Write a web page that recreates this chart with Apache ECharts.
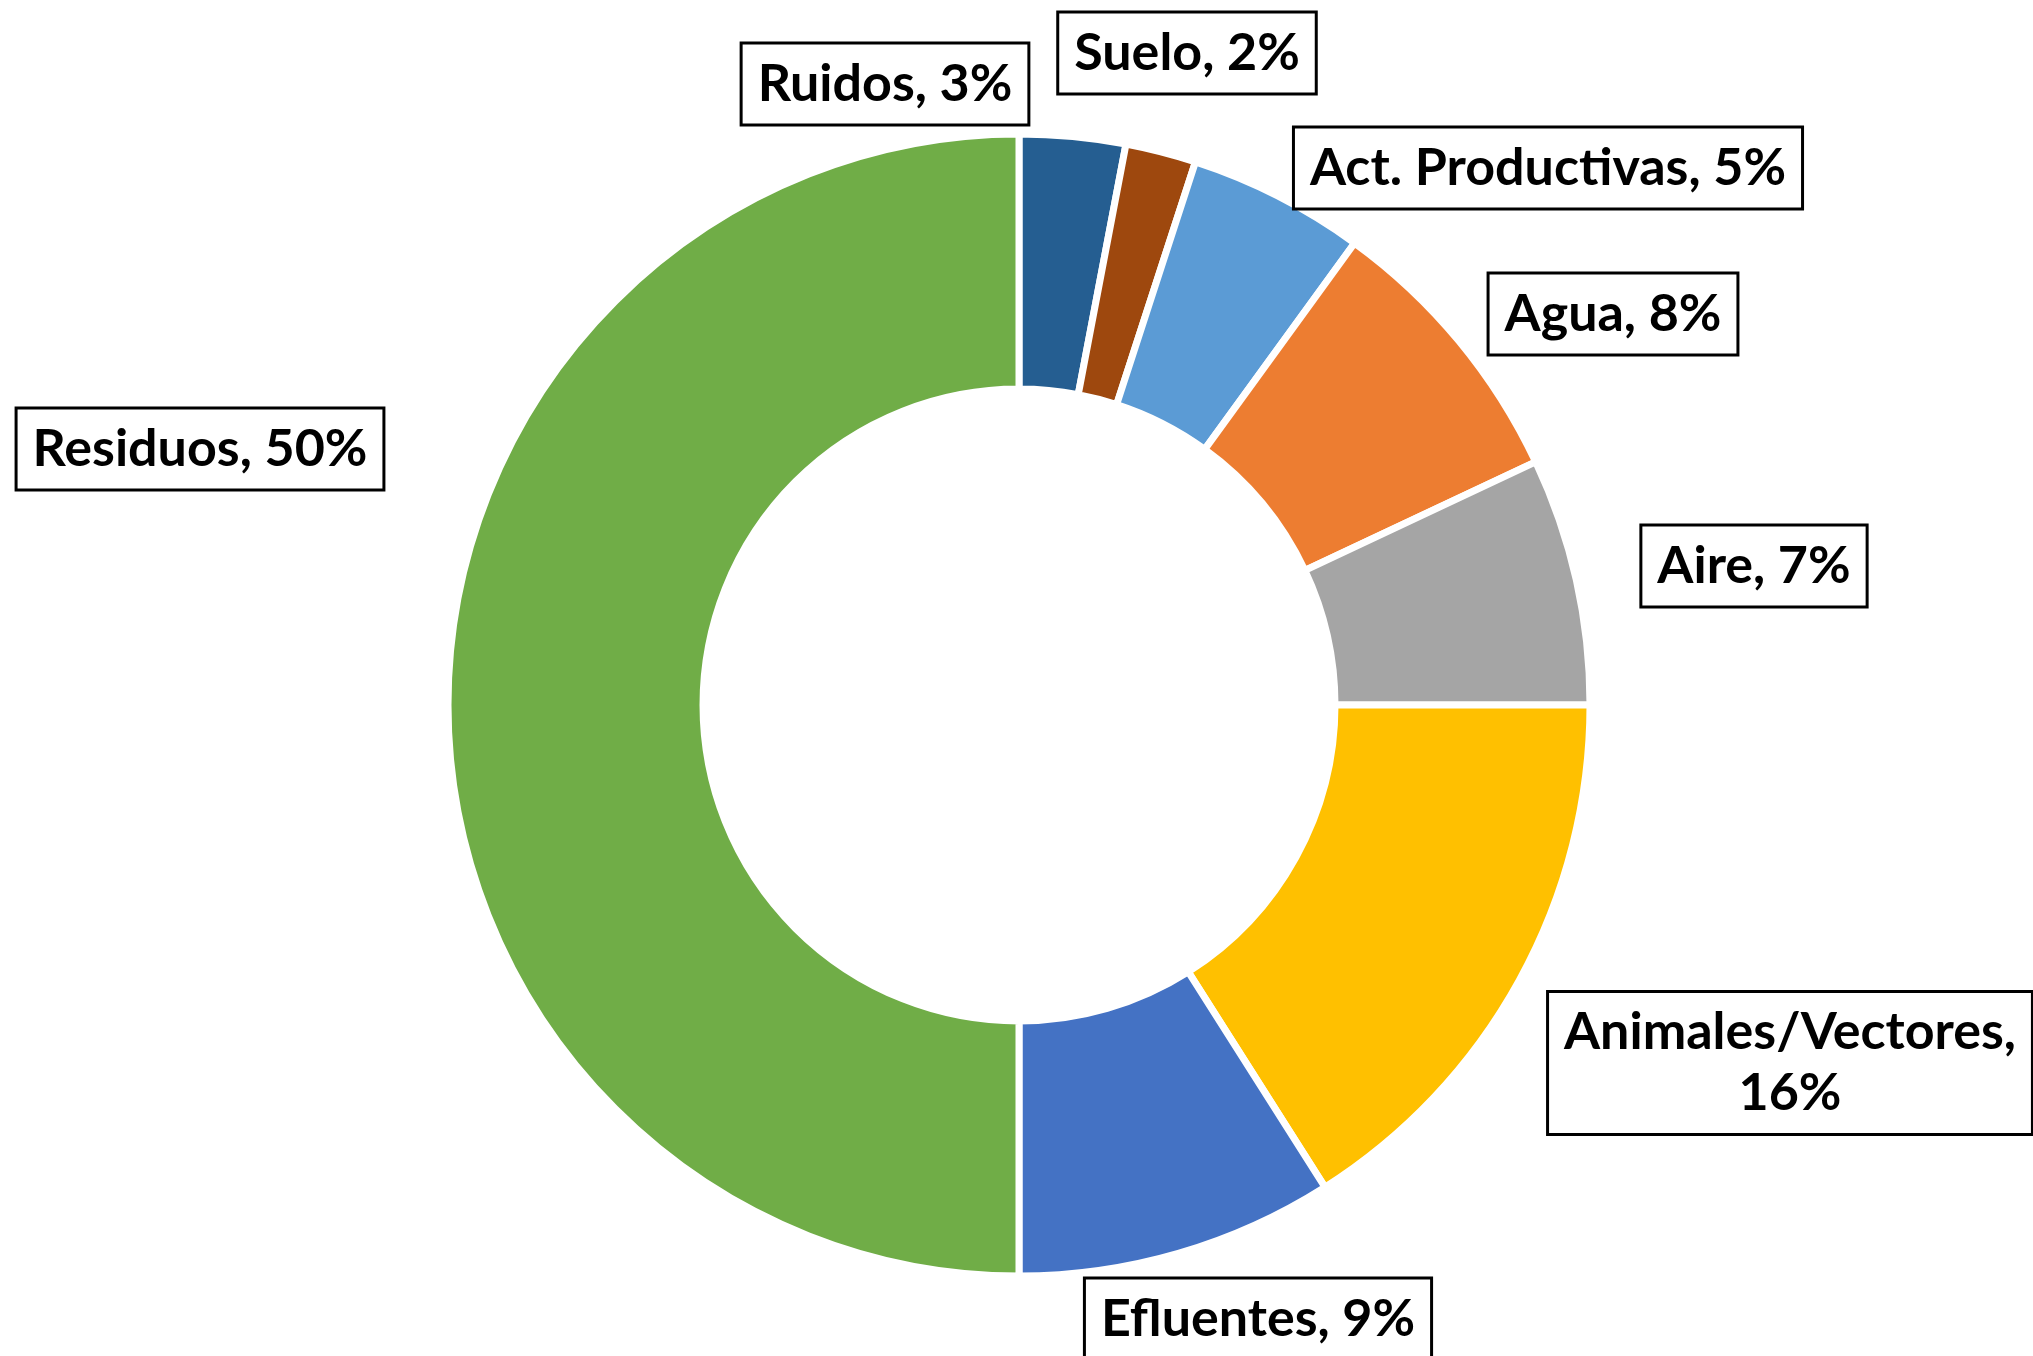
<!DOCTYPE html>
<html>
<head>
<meta charset="utf-8">
<title>Donut</title>
<script src="https://cdn.jsdelivr.net/npm/echarts@6/dist/echarts.min.js"></script>
<style>
  html, body { margin: 0; padding: 0; background: #fff; }
  #chart { width: 2033px; height: 1356px; }
</style>
</head>
<body>
<div id="chart"></div>
<script>
  // categories & values (clockwise from 12 o'clock)
  var categories = ['Ruidos', 'Suelo', 'Act. Productivas', 'Agua', 'Aire', 'Animales/Vectores', 'Efluentes', 'Residuos']
  var values = [3, 2, 5, 8, 7, 16, 9, 50]
  var colors = ['#255E91', '#9E480E', '#5B9BD5', '#ED7D31', '#A5A5A5', '#FFC000', '#4472C4', '#70AD47']

  // label box centers (layout only)
  var labelPos = [
    [885, 84], [1187, 53], [1548, 168], [1613, 314],
    [1754, 566], [1790, 1063], [1258, 1319], [200, 449]
  ]

  var chart = echarts.init(document.getElementById('chart'))

  var seriesData = categories.map(function (name, i) {
    var item = {
      name: name,
      value: values[i],
      itemStyle: { color: colors[i] }
    }
    if (name === 'Animales/Vectores') {
      item.label = { formatter: '{b},\n{c}%' }
    }
    return item
  })

  chart.setOption({
    animation: false,
    series: [{
      type: 'pie',
      center: [1019, 705],
      radius: [316, 571],
      startAngle: 90,
      clockwise: true,
      avoidLabelOverlap: false,
      itemStyle: {
        borderColor: '#fff',
        borderWidth: 7
      },
      label: {
        show: true,
        formatter: '{b}, {c}%',
        fontFamily: 'Lato',
        fontWeight: 'bold',
        fontSize: 52,
        lineHeight: 61,
        color: '#000',
        backgroundColor: '#fff',
        borderColor: '#000',
        borderWidth: 3,
        padding: [10, 15, 8, 15],
        align: 'center'
      },
      labelLine: { show: false },
      labelLayout: function (params) {
        var p = labelPos[params.dataIndex]
        return {
          x: p[0],
          y: p[1],
          align: 'center',
          verticalAlign: 'middle'
        }
      },
      emphasis: { disabled: true },
      data: seriesData
    }]
  })
</script>
</body>
</html>
